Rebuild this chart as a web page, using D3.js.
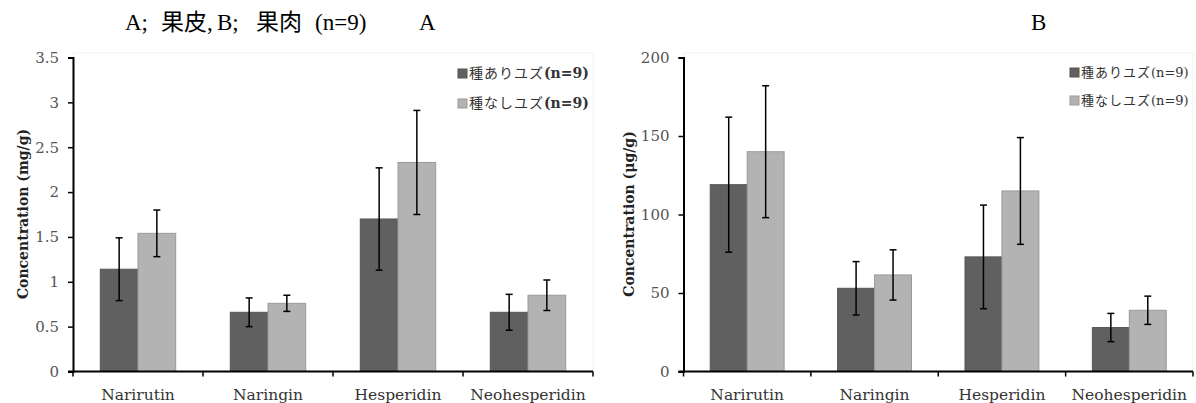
<!DOCTYPE html>
<html>
<head>
<meta charset="utf-8">
<script src="https://cdn.jsdelivr.net/npm/d3@7"></script>
<style>
  body { margin: 0; background: #fff; }
  svg { display: block; }
</style>
</head>
<body>
<svg width="1196" height="403"></svg>
<script>
const compounds = ['Narirutin', 'Naringin', 'Hesperidin', 'Neohesperidin'];
const seriesNames = ['種ありユズ', '種なしユズ'];
const colors = ['#606060', '#b3b3b3'];

// A: peel (mg/g)
const peelSeeded = [1.14, 0.66, 1.70, 0.66];
const peelSeededErr = [0.35, 0.16, 0.57, 0.20];
const peelSeedless = [1.54, 0.76, 2.33, 0.85];
const peelSeedlessErr = [0.26, 0.09, 0.58, 0.17];
const peelTicks = [0, 0.5, 1, 1.5, 2, 2.5, 3, 3.5];

// B: flesh (µg/g)
const fleshSeeded = [119, 53, 73, 28];
const fleshSeededErr = [43, 17, 33, 9];
const fleshSeedless = [140, 61.5, 115, 39];
const fleshSeedlessErr = [42, 16, 34, 9];
const fleshTicks = [0, 50, 100, 150, 200];

const titleParts = [['A;', 125], ['果皮,', 161], ['B;', 217], ['果肉', 256], ['(n=9)', 315]];

const svg = d3.select('svg');
const serif = "'DejaVu Serif', serif";

svg.append('text')
    .attr('y', 30)
    .style('font-family', "'Liberation Serif', 'Noto Sans CJK JP', serif")
    .style('font-size', '23px')
    .selectAll('tspan')
    .data(titleParts)
    .enter()
    .append('tspan')
    .attr('x', d => d[1])
    .text(d => d[0]);

function drawChart(opt) {
    const g = svg.append('g');
    const x = d3.scaleBand().domain(compounds).range([opt.left, opt.right]);
    const y = d3.scaleLinear().domain([0, opt.max]).range([371.5, 57.5]);

    // faint frame of plot area
    g.append('rect')
        .attr('x', opt.left).attr('y', 53)
        .attr('width', opt.right - opt.left).attr('height', 371.5 - 53)
        .attr('fill', 'none').attr('stroke', '#f2f2f2');

    g.append('text')
        .attr('x', opt.letterX).attr('y', 30)
        .style('font-family', "'Liberation Serif', serif")
        .style('font-size', '23px')
        .text(opt.letter);

    const yAxis = g.append('g')
        .attr('transform', `translate(${opt.left},0)`)
        .call(d3.axisLeft(y).tickValues(opt.ticks).tickSize(5).tickPadding(9)
            .tickFormat(d => String(d)));
    yAxis.select('.domain').attr('stroke', '#000').attr('stroke-width', 2);
    yAxis.selectAll('.tick line').attr('stroke', '#000').attr('stroke-width', 1.5);
    yAxis.selectAll('.tick text')
        .style('font-family', serif).style('font-size', '15px').attr('fill', '#555');

    const bw = x.bandwidth() * 0.29;
    const series = [
        { vals: opt.a, errs: opt.aErr, off: -bw },
        { vals: opt.b, errs: opt.bErr, off: 0 }
    ];
    series.forEach((s, si) => {
        const cx = i => x(compounds[i]) + x.bandwidth() / 2 + s.off;
        g.selectAll(null)
            .data(s.vals)
            .enter()
            .append('rect')
            .attr('x', (d, i) => cx(i))
            .attr('y', d => y(d))
            .attr('width', bw)
            .attr('height', d => y(0) - y(d))
            .attr('fill', colors[si])
            .attr('stroke', si === 0 ? '#555' : '#999')
            .attr('stroke-width', 1);

        const eb = g.selectAll(null)
            .data(s.vals)
            .enter()
            .append('g')
            .attr('stroke', '#000')
            .attr('stroke-width', 1.5);
        eb.append('line')
            .attr('x1', (d, i) => cx(i) + bw / 2).attr('x2', (d, i) => cx(i) + bw / 2)
            .attr('y1', (d, i) => y(d + s.errs[i])).attr('y2', (d, i) => y(d - s.errs[i]));
        [1, -1].forEach(sign => {
            eb.append('line')
                .attr('x1', (d, i) => cx(i) + bw / 2 - 3.5).attr('x2', (d, i) => cx(i) + bw / 2 + 3.5)
                .attr('y1', (d, i) => y(d + sign * s.errs[i]))
                .attr('y2', (d, i) => y(d + sign * s.errs[i]));
        });
    });

    // x axis with boundary ticks
    g.append('line')
        .attr('x1', opt.left - 5).attr('x2', opt.right)
        .attr('y1', y(0)).attr('y2', y(0))
        .attr('stroke', '#000').attr('stroke-width', 2);
    const bounds = compounds.map(c => x(c)).concat([opt.right]);
    g.selectAll(null)
        .data(bounds)
        .enter()
        .append('line')
        .attr('x1', d => d).attr('x2', d => d)
        .attr('y1', y(0)).attr('y2', y(0) + 5)
        .attr('stroke', '#000').attr('stroke-width', 1.5);
    g.selectAll(null)
        .data(compounds)
        .enter()
        .append('text')
        .attr('x', d => x(d) + x.bandwidth() / 2)
        .attr('y', 400)
        .attr('text-anchor', 'middle')
        .style('font-family', serif)
        .style('font-size', '15.5px')
        .attr('fill', '#333')
        .text(d => d);

    g.append('text')
        .attr('transform', `translate(${opt.titleX},214) rotate(-90)`)
        .attr('text-anchor', 'middle')
        .style('font-family', serif)
        .style('font-size', '14px')
        .style('font-weight', 'bold')
        .attr('fill', '#222')
        .text(opt.title);

    const lg = g.selectAll(null)
        .data(seriesNames)
        .enter()
        .append('g')
        .attr('transform', (d, i) => `translate(${opt.legendX},${opt.legendY + i * opt.legendGap})`);
    lg.append('rect')
        .attr('x', 0).attr('y', -9)
        .attr('width', 9).attr('height', 9)
        .attr('fill', (d, i) => colors[i])
        .attr('stroke', (d, i) => i === 0 ? '#555' : '#999');
    const lt = lg.append('text')
        .attr('x', 11).attr('y', 0)
        .style('font-size', opt.legendSize)
        .attr('fill', '#333');
    lt.append('tspan')
        .style('font-family', "'Noto Sans CJK JP', sans-serif")
        .style('letter-spacing', opt.legendSpacing)
        .text(d => d);
    lt.append('tspan')
        .style('font-family', serif)
        .style('font-weight', opt.legendWeight)
        .text('(n=9)');
}

drawChart({
    left: 73, right: 593, max: 3.5, ticks: peelTicks,
    a: peelSeeded, aErr: peelSeededErr, b: peelSeedless, bErr: peelSeedlessErr,
    title: 'Concentration (mg/g)', titleX: 28,
    letter: 'A', letterX: 419,
    legendX: 458, legendY: 78, legendGap: 30, legendSize: '14px',
    legendSpacing: '1px', legendWeight: 'bold'
});

drawChart({
    left: 683.5, right: 1193, max: 200, ticks: fleshTicks,
    a: fleshSeeded, aErr: fleshSeededErr, b: fleshSeedless, bErr: fleshSeedlessErr,
    title: 'Concentration (μg/g)', titleX: 634,
    letter: 'B', letterX: 1031,
    legendX: 1070, legendY: 77, legendGap: 28, legendSize: '13px',
    legendSpacing: '1px', legendWeight: 'normal'
});
</script>
</body>
</html>
